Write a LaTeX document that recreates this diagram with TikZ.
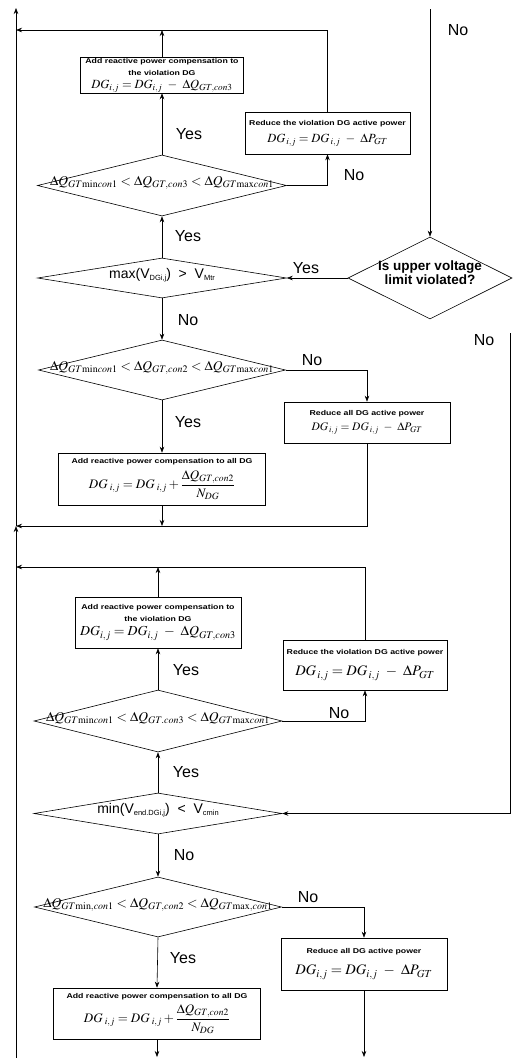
\documentclass[tikz,border=0pt]{standalone}
\usepackage{mathptmx}
\usepackage[no-math]{fontspec}
\setmainfont{Liberation Sans}
\usepackage{graphicx}
\usetikzlibrary{shapes.geometric, arrows.meta}

\newcommand{\hd}[1]{\scalebox{1.25}[1]{\fontsize{7}{7}\selectfont\bfseries #1}}
\newcommand{\dtext}[1]{\smash{\makebox[0pt]{#1}}}
\newcommand{\sbs}[1]{\raisebox{-2pt}{\fontsize{7.5}{7.5}\selectfont #1}}

\tikzset{
  box/.style={draw, rectangle, align=center, inner sep=1pt},
  dec/.style={draw, diamond, inner sep=0pt},
  yn/.style={font=\fontsize{16}{16}\selectfont, inner sep=0pt},
}

\begin{document}
\begin{tikzpicture}[>={Stealth[length=6pt,width=4.5pt]}, x=1pt, y=-1pt, line width=0.6pt]
  \useasboundingbox (0,0) rectangle (512,1058);
  % return lines and free ends
  \coordinate (topL) at (16,8);
  \coordinate (retA) at (16,30);
  \coordinate (retB) at (16,526);
  \coordinate (retC) at (16,567);
  \coordinate (botL) at (16,1058);
  \coordinate (outL) at (0,1057);
  \coordinate (inUp) at (430,9);
  \coordinate (inMin) at (510,333);

  % upper voltage limit part
  \node[box, minimum width=163pt, minimum height=32pt] (addvioA) at (162,75)
    {\hd{Add reactive power compensation to}\\ \hd{the violation DG}\\[1pt]
     \fontsize{12.5}{12.5}\selectfont$DG_{i,j} = DG_{i,j}\ -\ \Delta Q_{GT,con3}$};
  \node[box, minimum width=165pt, minimum height=42pt] (redvioA) at (327.5,133)
    {\hd{Reduce the violation DG active power}\\[5pt]
     \fontsize{12.5}{12.5}\selectfont$DG_{\,i,j} = DG_{\,i,j}\ -\ \Delta P_{GT}$};
  \node[dec, minimum width=249pt, minimum height=61pt] (chkA3) at (162,185.5)
    {\dtext{\fontsize{13.5}{14}\selectfont$\Delta Q_{GT\mathrm{min}con1} < \Delta Q_{GT,con3} < \Delta Q_{GT\mathrm{max}con1}$}};
  \node[dec, minimum width=164pt, minimum height=82pt] (chkUp) at (430,278)
    {\dtext{\fontsize{13.5}{14}\selectfont\bfseries\begin{tabular}{@{}c@{}}Is upper voltage\\limit violated?\end{tabular}}};
  \node[dec, minimum width=249pt, minimum height=40pt] (chkMax) at (162,278)
    {\dtext{\fontsize{14}{14}\selectfont max(V\sbs{DGi,j}) \ > \ V\sbs{Mtr}}};
  \node[dec, minimum width=247pt, minimum height=60pt] (chkA2) at (162,370)
    {\dtext{\fontsize{13.5}{14}\selectfont$\Delta Q_{GT\mathrm{min}con1} < \Delta Q_{GT,con2} < \Delta Q_{GT\mathrm{max}con1}$}};
  \node[box, minimum width=166pt, minimum height=41pt] (redallA) at (367,422.5)
    {\hd{Reduce all DG active power}\\[3pt]
     \fontsize{11.5}{11.5}\selectfont$DG_{\,i,j} = DG_{\,i,j}\ -\ \Delta P_{GT}$};
  \node[box, minimum width=207pt, minimum height=52pt] (addallA) at (162,479)
    {\hd{Add reactive power compensation to all DG}\\[4pt]
     \fontsize{13}{13}\selectfont$DG_{\;i,j} = DG_{\;i,j} + {\displaystyle\frac{\Delta Q_{GT,con2}}{N_{DG}}}$};

  \draw[->] (addvioA.north) -- (addvioA.north |- retA);
  \draw[->] (redvioA.north) |- (retA);
  \draw[->] (chkA3.north) -- (addvioA.south);
  \draw[->] (chkA3.east) -| (redvioA.south);
  \draw[->] (inUp) -- (chkUp.north);
  \draw[->] (chkUp.west) -- (chkMax.east);
  \draw[->] (chkMax.north) -- (chkA3.south);
  \draw[->] (chkMax.south) -- (chkA2.north);
  \draw[->] (chkA2.east) -| (redallA.north);
  \draw[->] (chkA2.south) -- (addallA.north);
  \draw[->] (redallA.south) |- (retB);
  \draw[->] (addallA.south) -- (addallA.south |- retB);
  \draw[->] (retB) -- (topL);
  \draw[->] (botL) -- (retB);

  \node[yn] (ynA1) at (458,30) {No};
  \node[yn] (ynA2) at (189,134) {Yes};
  \node[yn] (ynA3) at (354,175) {No};
  \node[yn] (ynA4) at (188,236) {Yes};
  \node[yn] (ynA5) at (306,268) {Yes};
  \node[yn] (ynA6) at (188,320) {No};
  \node[yn] (ynA7) at (312,360) {No};
  \node[yn] (ynA8) at (188,422) {Yes};

  % lower voltage limit part
  \node[box, minimum width=166pt, minimum height=51pt] (addvioB) at (158,622.5)
    {\hd{Add reactive power compensation to}\\ \hd{the violation DG}\\[2pt]
     \fontsize{13.8}{13.8}\selectfont$DG_{i,j} = DG_{i,j}\ -\ \Delta Q_{GT,con3}$};
  \node[box, minimum width=164pt, minimum height=50pt] (redvioB) at (365,665)
    {\hd{Reduce the violation DG active power}\\[9pt]
     \fontsize{14.5}{14.5}\selectfont$DG_{\,i,j} = DG_{\,i,j}\ -\ \Delta P_{GT}$};
  \node[dec, minimum width=248pt, minimum height=62pt] (chkB3) at (158,721)
    {\dtext{\fontsize{13.5}{14}\selectfont$\Delta Q_{GT\mathrm{min}con1} < \Delta Q_{GT.con3} < \Delta Q_{GT\mathrm{max}con1}$}};
  \node[dec, minimum width=248pt, minimum height=41pt] (chkMin) at (158,813.5)
    {\dtext{\fontsize{14}{14}\selectfont min(V\sbs{end.DGi,j}) \ < \ V\sbs{cmin}}};
  \node[dec, minimum width=247pt, minimum height=60pt] (chkB2) at (158,907)
    {\dtext{\fontsize{13.5}{14}\selectfont$\Delta Q_{GT\mathrm{min},con1} < \Delta Q_{GT,con2} < \Delta Q_{GT\mathrm{max},con1}$}};
  \node[box, minimum width=166pt, minimum height=52pt] (redallB) at (364,964)
    {\hd{Reduce all DG active power}\\[9pt]
     \fontsize{14.5}{14.5}\selectfont$DG_{i,j} = DG_{i,j}\ -\ \Delta P_{GT}$};
  \node[box, minimum width=207pt, minimum height=51pt] (addallB) at (157,1013.5)
    {\hd{Add reactive power compensation to all DG}\\[3pt]
     \fontsize{13}{13}\selectfont$DG_{\;i,j} = DG_{\;i,j} + {\displaystyle\frac{\Delta Q_{GT,con2}}{N_{DG}}}$};

  \draw[->] (addvioB.north) -- (addvioB.north |- retC);
  \draw[->] (redvioB.north) |- (retC);
  \draw[->] (chkB3.north) -- (addvioB.south);
  \draw[->] (chkB3.east) -| (redvioB.south);
  \draw[->] (inMin) |- (chkMin.east);
  \draw[->] (chkMin.north) -- (chkB3.south);
  \draw[->] (chkMin.south) -- (chkB2.north);
  \draw[->] (chkB2.east) -| (redallB.north);
  \draw[->] (chkB2.south) -- (addallB.north);
  \draw[->] (addallB.south) -- (addallB.south |- outL);
  \draw[->] (redallB.south) -- (redallB.south |- outL);

  \node[yn] (ynB1) at (484,340) {No};
  \node[yn] (ynB2) at (186,670) {Yes};
  \node[yn] (ynB3) at (339,713) {No};
  \node[yn] (ynB4) at (186,772) {Yes};
  \node[yn] (ynB5) at (184,855) {No};
  \node[yn] (ynB6) at (308,897) {No};
  \node[yn] (ynB7) at (183,958) {Yes};
\end{tikzpicture}
\end{document}
